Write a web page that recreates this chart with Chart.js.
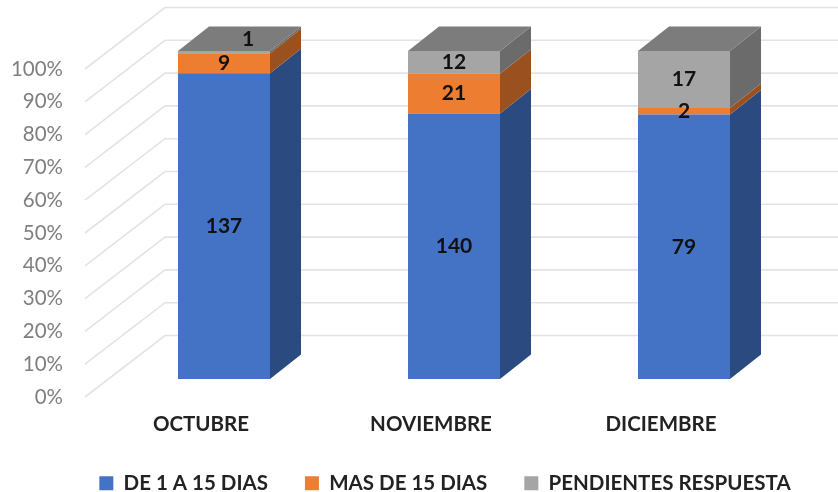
<!DOCTYPE html>
<html><head><meta charset="utf-8">
<style>html,body{margin:0;padding:0;background:#fff}#w{width:838px;height:492px;filter:blur(.45px)}</style>
<script src="https://cdn.jsdelivr.net/npm/chart.js@4"></script></head>
<body><div id="w"><canvas id="c" width="838" height="492"></canvas></div>
<script>
const categories = ["OCTUBRE","NOVIEMBRE","DICIEMBRE"];
const seriesNames = ["DE 1 A 15 DIAS","MAS DE 15 DIAS","PENDIENTES RESPUESTA"];
const deUnoAQuince = [137,140,79];
const masDeQuince = [9,21,2];
const pendientes = [1,12,17];
const frontColors = ["#4472c4","#ed7d31","#a5a5a5"];
const sideColors = ["#2b4a80","#9a511f","#6b6b6b"];
const topColor = "#7c7c7c";
const allSeries = [deUnoAQuince,masDeQuince,pendientes];
const totals = categories.map((_,i)=>allSeries.reduce((s,a)=>s+a[i],0));
const DX = 31, DY = 24.5;

const depth = {
  id:'depth',
  beforeLayout(chart){
    const l = chart.legend;
    if(!l._flat){ const f = l.fit; l.fit = function(){ f.call(this); this.height = 0; }; l._flat = true; }
  },
  afterLayout(chart){ const l=chart.legend; l.left = 52; l.right = 838; l.top = 436; },
  beforeDatasetsDraw(chart){
    const {ctx,scales:{y}} = chart;
    ctx.save();
    ctx.strokeStyle = "#e3e3e3"; ctx.lineWidth = 1.6;
    y.ticks.forEach(t=>{
      const p = y.getPixelForValue(t.value);
      ctx.beginPath();
      ctx.moveTo(85,p+18); ctx.lineTo(165,p-43.5); ctx.lineTo(838,p-43.5);
      ctx.stroke();
    });
    ctx.restore();
  },
  afterDatasetsDraw(chart){
    const {ctx} = chart;
    ctx.save();
    allSeries.forEach((vals,d)=>{
      chart.getDatasetMeta(d).data.forEach((bar,i)=>{
        const r = bar.x+bar.width/2, l = bar.x-bar.width/2;
        ctx.fillStyle = sideColors[d];
        ctx.beginPath();
        ctx.moveTo(r,bar.y); ctx.lineTo(r+DX,bar.y-DY); ctx.lineTo(r+DX,bar.base-DY); ctx.lineTo(r,bar.base);
        ctx.closePath(); ctx.fill();
        if(d===allSeries.length-1){
          ctx.fillStyle = topColor;
          ctx.beginPath();
          ctx.moveTo(l,bar.y); ctx.lineTo(l+DX,bar.y-DY); ctx.lineTo(r+DX,bar.y-DY); ctx.lineTo(r,bar.y);
          ctx.closePath(); ctx.fill();
        }
      });
    });
    ctx.font = "bold 21px Lato"; ctx.fillStyle = "#111"; ctx.textAlign = "center"; ctx.textBaseline = "middle";
    allSeries.forEach((vals,d)=>{
      chart.getDatasetMeta(d).data.forEach((bar,i)=>{
        const shifted = d===2 && i===0;
        ctx.fillText(String(vals[i]), bar.x+(shifted?24:0), (bar.y+bar.base)/2+(shifted?-12.5:0));
      });
    });
    ctx.restore();
  }
};

new Chart(document.getElementById('c'),{
  type:'bar',
  data:{labels:categories,datasets:allSeries.map((vals,d)=>({
    label:seriesNames[d],
    data:vals.map((v,i)=>v/totals[i]*100),
    backgroundColor:frontColors[d],
    borderWidth:0,
    categoryPercentage:1,
    barPercentage:0.4
  }))},
  options:{
    responsive:false,animation:false,
    layout:{padding:{top:51,right:39,left:0,bottom:0}},
    plugins:{
      tooltip:{enabled:false},
      legend:{position:'bottom',labels:{boxWidth:14,boxHeight:14,padding:37,color:"#222",font:{family:"Lato",size:20.5,weight:"bold"}}}
    },
    scales:{
      x:{stacked:true,
        afterFit:s=>{s.height=113;},
        grid:{display:false,drawTicks:false},border:{display:false},
        ticks:{padding:33,labelOffset:-23,autoSkip:false,maxRotation:0,color:"#222",font:{family:"Lato",size:20.5,weight:"bold"}}},
      y:{stacked:true,min:0,max:100,
        afterFit:s=>{s.width=109;s.paddingTop=0;s.paddingBottom=0;},
        grid:{display:false,drawTicks:false},border:{display:false},
        ticks:{autoSkip:false,stepSize:10,padding:46,labelOffset:18,color:"#7f7f7f",font:{family:"Lato",size:20.5},callback:v=>v+"%"}}
    }
  },
  plugins:[depth]
});
</script></body></html>
